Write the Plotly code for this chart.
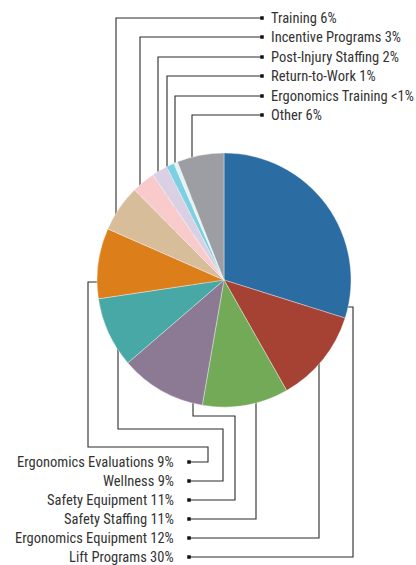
import plotly.graph_objects as go

# ---- data ----
categories = ["Lift Programs", "Ergonomics Equipment", "Safety Staffing", "Safety Equipment",
              "Wellness", "Ergonomics Evaluations", "Training", "Incentive Programs",
              "Post-Injury Staffing", "Return-to-Work", "Ergonomics Training", "Other"]
values = [30, 12, 11, 11, 9, 9, 6, 3, 2, 1, 0.5, 6]
value_labels = ["30%", "12%", "11%", "11%", "9%", "9%", "6%", "3%", "2%", "1%", "<1%", "6%"]
colors = ["#2b6ca3", "#a64234", "#72aa57", "#8c7994", "#48a8a6", "#dc7f1b",
          "#d8bd9b", "#f8cacc", "#d9d0e3", "#7dd0e2", "#e2f3f3", "#9d9ea3"]

# ---- layout constants (pixels) ----
W, H = 416, 565
CX, CY, R = 224, 280, 127
TEXT_COLOR = "#333333"
LINE_COLOR = "#2a2a2a"
FONT = "Roboto Condensed"
FONT_SIZE = 14.5

# bottom labels (listed top->bottom on page)
bottom_order = ["Ergonomics Evaluations", "Wellness", "Safety Equipment",
                "Safety Staffing", "Ergonomics Equipment", "Lift Programs"]
bottom_y = [462, 481, 500, 519, 538, 557]
bottom_marker_x = 189
bottom_text_x = 176
# routing lanes after leaving the pie centre: ("h", y) = go to row y, ("v", x) = go to column x
bottom_routes = {
    "Ergonomics Evaluations": [("h", 282), ("v", 88), ("h", 447), ("v", 208)],
    "Wellness": [("v", 118), ("h", 429), ("v", 223)],
    "Safety Equipment": [("v", 193), ("h", 416), ("v", 235)],
    "Safety Staffing": [("v", 256)],
    "Ergonomics Equipment": [("v", 319)],
    "Lift Programs": [("h", 307), ("v", 353)],
}

top_order = ["Training", "Incentive Programs", "Post-Injury Staffing",
             "Return-to-Work", "Ergonomics Training", "Other"]
top_y = [18, 37, 57, 76, 96, 115]
top_lane_x = [116, 140, 158, 167, 175, 192]
top_marker_x = 262
top_text_x = 269

fig = go.Figure()


def add_line(xs, ys):
    fig.add_trace(go.Scatter(x=xs, y=ys, mode="lines",
                             line=dict(color=LINE_COLOR, width=1.1),
                             hoverinfo="skip", showlegend=False))


# bottom leader lines (start hidden under the pie)
for name, ly in zip(bottom_order, bottom_y):
    x, y = CX, CY
    xs, ys = [x], [y]
    for kind, val in bottom_routes[name]:
        if kind == "h":
            y = val
        else:
            x = val
        xs.append(x)
        ys.append(y)
    xs += [x, bottom_marker_x]
    ys += [ly, ly]
    add_line(xs, ys)

# top leader lines
for ly, lx in zip(top_y, top_lane_x):
    add_line([top_marker_x, lx, lx], [ly, ly, CY])

# end markers
fig.add_trace(go.Scatter(x=[bottom_marker_x] * len(bottom_y) + [top_marker_x] * len(top_y),
                         y=bottom_y + top_y, mode="markers",
                         marker=dict(symbol="square", size=3.5, color="#111111"),
                         hoverinfo="skip", showlegend=False))

# pie
fig.add_trace(go.Pie(labels=categories, values=values, sort=False, direction="clockwise",
                     rotation=0, textinfo="none", hoverinfo="label+percent",
                     marker=dict(colors=colors, line=dict(color="rgba(255,255,255,0.6)", width=0.6)),
                     domain=dict(x=[(CX - R) / W, (CX + R) / W],
                                 y=[(H - CY - R) / H, (H - CY + R) / H]),
                     showlegend=False))

label_text = {c: f"{c} {v}" for c, v in zip(categories, value_labels)}
annotations = []
for name, ly in zip(bottom_order, bottom_y):
    annotations.append(dict(x=bottom_text_x, y=ly, xref="x", yref="y", text=label_text[name],
                            showarrow=False, xanchor="right", yanchor="middle",
                            font=dict(family=FONT, size=FONT_SIZE, color=TEXT_COLOR)))
for name, ly in zip(top_order, top_y):
    annotations.append(dict(x=top_text_x, y=ly, xref="x", yref="y", text=label_text[name],
                            showarrow=False, xanchor="left", yanchor="middle",
                            font=dict(family=FONT, size=FONT_SIZE, color=TEXT_COLOR)))

fig.update_layout(
    width=W, height=H, margin=dict(l=0, r=0, t=0, b=0),
    paper_bgcolor="white", plot_bgcolor="white",
    font=dict(family=FONT),
    xaxis=dict(range=[0, W], visible=False, fixedrange=True, domain=[0, 1]),
    yaxis=dict(range=[H, 0], visible=False, fixedrange=True, domain=[0, 1]),
    annotations=annotations,
)

fig.write_html("out.html")
